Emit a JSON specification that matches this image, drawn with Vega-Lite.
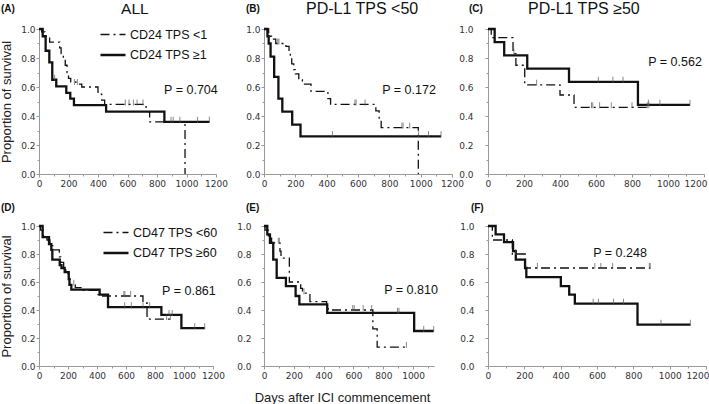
{
"$schema": "https://vega.github.io/schema/vega-lite/v6.json",
"background": "white",
"padding": {"left": 0, "top": 0, "right": 0, "bottom": 1},
"config": {
  "view": {"stroke": null},
  "font": "Liberation Sans",
  "axis": {"domainColor": "#999", "tickColor": "#999", "tickSize": 3, "labelFont": "DejaVu Sans", "labelFontSize": 9, "labelColor": "#333", "grid": false, "titleFont": "Liberation Sans", "titleFontSize": 13, "titleFontWeight": "normal", "titleColor": "#222", "labelOverlap": false, "labelFlush": false},
  "text": {"font": "Liberation Sans", "color": "#111"}
},
"datasets": {
  "A": [
    {"g":"CD24 TPS <1","d":0,"s":1},{"g":"CD24 TPS <1","d":18,"s":0.98},{"g":"CD24 TPS <1","d":40,"s":0.95},{"g":"CD24 TPS <1","d":72,"s":0.91},{"g":"CD24 TPS <1","d":140,"s":0.87},{"g":"CD24 TPS <1","d":150,"s":0.83},{"g":"CD24 TPS <1","d":165,"s":0.79},{"g":"CD24 TPS <1","d":178,"s":0.75},{"g":"CD24 TPS <1","d":190,"s":0.70},{"g":"CD24 TPS <1","d":200,"s":0.66},{"g":"CD24 TPS <1","d":215,"s":0.635},{"g":"CD24 TPS <1","d":250,"s":0.62},{"g":"CD24 TPS <1","d":290,"s":0.60},{"g":"CD24 TPS <1","d":400,"s":0.55},{"g":"CD24 TPS <1","d":425,"s":0.51},{"g":"CD24 TPS <1","d":445,"s":0.48},{"g":"CD24 TPS <1","d":726,"s":0.43},{"g":"CD24 TPS <1","d":750,"s":0.36},{"g":"CD24 TPS <1","d":990,"s":0},
    {"g":"CD24 TPS ≥1","d":0,"s":1},{"g":"CD24 TPS ≥1","d":25,"s":0.95},{"g":"CD24 TPS ≥1","d":45,"s":0.85},{"g":"CD24 TPS ≥1","d":70,"s":0.77},{"g":"CD24 TPS ≥1","d":90,"s":0.65},{"g":"CD24 TPS ≥1","d":117,"s":0.605},{"g":"CD24 TPS ≥1","d":185,"s":0.56},{"g":"CD24 TPS ≥1","d":212,"s":0.52},{"g":"CD24 TPS ≥1","d":237,"s":0.475},{"g":"CD24 TPS ≥1","d":455,"s":0.43},{"g":"CD24 TPS ≥1","d":850,"s":0.36},{"g":"CD24 TPS ≥1","d":1155,"s":0.36}
  ],
  "Ac": [
    {"d":240,"s":0.62},{"d":260,"s":0.62},{"d":585,"s":0.48},{"d":610,"s":0.48},{"d":640,"s":0.48},{"d":665,"s":0.48},{"d":705,"s":0.48},{"d":895,"s":0.36},{"d":910,"s":0.36},
    {"d":106,"s":0.65},{"d":955,"s":0.36},{"d":1075,"s":0.36},{"d":1155,"s":0.36}
  ],
  "B": [
    {"g":"CD24 TPS <1","d":0,"s":1},{"g":"CD24 TPS <1","d":30,"s":0.95},{"g":"CD24 TPS <1","d":48,"s":0.93},{"g":"CD24 TPS <1","d":75,"s":0.90},{"g":"CD24 TPS <1","d":140,"s":0.88},{"g":"CD24 TPS <1","d":160,"s":0.84},{"g":"CD24 TPS <1","d":168,"s":0.80},{"g":"CD24 TPS <1","d":177,"s":0.76},{"g":"CD24 TPS <1","d":190,"s":0.72},{"g":"CD24 TPS <1","d":200,"s":0.69},{"g":"CD24 TPS <1","d":222,"s":0.65},{"g":"CD24 TPS <1","d":245,"s":0.62},{"g":"CD24 TPS <1","d":300,"s":0.57},{"g":"CD24 TPS <1","d":408,"s":0.52},{"g":"CD24 TPS <1","d":425,"s":0.48},{"g":"CD24 TPS <1","d":714,"s":0.435},{"g":"CD24 TPS <1","d":735,"s":0.38},{"g":"CD24 TPS <1","d":748,"s":0.32},{"g":"CD24 TPS <1","d":985,"s":0},
    {"g":"CD24 TPS ≥1","d":0,"s":1},{"g":"CD24 TPS ≥1","d":22,"s":0.95},{"g":"CD24 TPS ≥1","d":30,"s":0.90},{"g":"CD24 TPS ≥1","d":42,"s":0.81},{"g":"CD24 TPS ≥1","d":65,"s":0.67},{"g":"CD24 TPS ≥1","d":92,"s":0.52},{"g":"CD24 TPS ≥1","d":117,"s":0.43},{"g":"CD24 TPS ≥1","d":180,"s":0.34},{"g":"CD24 TPS ≥1","d":233,"s":0.26},{"g":"CD24 TPS ≥1","d":1130,"s":0.26}
  ],
  "Bc": [
    {"d":88,"s":0.90},{"d":95,"s":0.90},{"d":580,"s":0.48},{"d":588,"s":0.48},{"d":645,"s":0.48},{"d":880,"s":0.32},{"d":888,"s":0.32},{"d":930,"s":0.32},
    {"d":437,"s":0.26},{"d":987,"s":0.26},{"d":1050,"s":0.26},{"d":1130,"s":0.26}
  ],
  "C": [
    {"g":"CD24 TPS <1","d":0,"s":1},{"g":"CD24 TPS <1","d":18,"s":0.94},{"g":"CD24 TPS <1","d":139,"s":0.83},{"g":"CD24 TPS <1","d":155,"s":0.75},{"g":"CD24 TPS <1","d":204,"s":0.615},{"g":"CD24 TPS <1","d":400,"s":0.545},{"g":"CD24 TPS <1","d":478,"s":0.46},{"g":"CD24 TPS <1","d":894,"s":0.46},
    {"g":"CD24 TPS ≥1","d":0,"s":1},{"g":"CD24 TPS ≥1","d":37,"s":0.909},{"g":"CD24 TPS ≥1","d":90,"s":0.818},{"g":"CD24 TPS ≥1","d":218,"s":0.727},{"g":"CD24 TPS ≥1","d":450,"s":0.636},{"g":"CD24 TPS ≥1","d":833,"s":0.477},{"g":"CD24 TPS ≥1","d":1122,"s":0.477}
  ],
  "Cc": [
    {"d":144,"s":0.83},{"d":270,"s":0.615},{"d":575,"s":0.46},{"d":582,"s":0.46},{"d":620,"s":0.46},{"d":685,"s":0.46},{"d":800,"s":0.46},{"d":885,"s":0.46},{"d":894,"s":0.46},
    {"d":613,"s":0.636},{"d":694,"s":0.636},{"d":750,"s":0.636},{"d":891,"s":0.477},{"d":955,"s":0.477},{"d":1122,"s":0.477}
  ],
  "D": [
    {"g":"CD47 TPS <60","d":0,"s":1},{"g":"CD47 TPS <60","d":10,"s":0.97},{"g":"CD47 TPS <60","d":30,"s":0.93},{"g":"CD47 TPS <60","d":55,"s":0.90},{"g":"CD47 TPS <60","d":75,"s":0.86},{"g":"CD47 TPS <60","d":95,"s":0.83},{"g":"CD47 TPS <60","d":140,"s":0.78},{"g":"CD47 TPS <60","d":150,"s":0.74},{"g":"CD47 TPS <60","d":170,"s":0.70},{"g":"CD47 TPS <60","d":185,"s":0.66},{"g":"CD47 TPS <60","d":205,"s":0.62},{"g":"CD47 TPS <60","d":215,"s":0.58},{"g":"CD47 TPS <60","d":250,"s":0.56},{"g":"CD47 TPS <60","d":290,"s":0.54},{"g":"CD47 TPS <60","d":400,"s":0.51},{"g":"CD47 TPS <60","d":420,"s":0.50},{"g":"CD47 TPS <60","d":717,"s":0.45},{"g":"CD47 TPS <60","d":745,"s":0.335},{"g":"CD47 TPS <60","d":906,"s":0.335},
    {"g":"CD47 TPS ≥60","d":0,"s":1},{"g":"CD47 TPS ≥60","d":25,"s":0.92},{"g":"CD47 TPS ≥60","d":69,"s":0.87},{"g":"CD47 TPS ≥60","d":85,"s":0.83},{"g":"CD47 TPS ≥60","d":92,"s":0.76},{"g":"CD47 TPS ≥60","d":143,"s":0.72},{"g":"CD47 TPS ≥60","d":155,"s":0.70},{"g":"CD47 TPS ≥60","d":177,"s":0.67},{"g":"CD47 TPS ≥60","d":205,"s":0.62},{"g":"CD47 TPS ≥60","d":210,"s":0.58},{"g":"CD47 TPS ≥60","d":223,"s":0.545},{"g":"CD47 TPS ≥60","d":418,"s":0.51},{"g":"CD47 TPS ≥60","d":476,"s":0.42},{"g":"CD47 TPS ≥60","d":844,"s":0.365},{"g":"CD47 TPS ≥60","d":982,"s":0.27},{"g":"CD47 TPS ≥60","d":1143,"s":0.27}
  ],
  "Dc": [
    {"d":240,"s":0.58},{"d":585,"s":0.50},{"d":592,"s":0.50},{"d":632,"s":0.50},{"d":880,"s":0.335},{"d":906,"s":0.335},
    {"d":591,"s":0.42},{"d":637,"s":0.42},{"d":717,"s":0.42},{"d":763,"s":0.42},{"d":897,"s":0.365},{"d":919,"s":0.365},{"d":1074,"s":0.27},{"d":1143,"s":0.27}
  ],
  "E": [
    {"g":"CD47 TPS <60","d":0,"s":1},{"g":"CD47 TPS <60","d":7,"s":0.97},{"g":"CD47 TPS <60","d":29,"s":0.93},{"g":"CD47 TPS <60","d":51,"s":0.88},{"g":"CD47 TPS <60","d":107,"s":0.82},{"g":"CD47 TPS <60","d":114,"s":0.77},{"g":"CD47 TPS <60","d":170,"s":0.60},{"g":"CD47 TPS <60","d":246,"s":0.555},{"g":"CD47 TPS <60","d":258,"s":0.52},{"g":"CD47 TPS <60","d":308,"s":0.46},{"g":"CD47 TPS <60","d":420,"s":0.43},{"g":"CD47 TPS <60","d":430,"s":0.40},{"g":"CD47 TPS <60","d":730,"s":0.265},{"g":"CD47 TPS <60","d":759,"s":0.135},{"g":"CD47 TPS <60","d":955,"s":0.135},
    {"g":"CD47 TPS ≥60","d":0,"s":1},{"g":"CD47 TPS ≥60","d":22,"s":0.94},{"g":"CD47 TPS ≥60","d":40,"s":0.88},{"g":"CD47 TPS ≥60","d":62,"s":0.76},{"g":"CD47 TPS ≥60","d":85,"s":0.63},{"g":"CD47 TPS ≥60","d":147,"s":0.57},{"g":"CD47 TPS ≥60","d":212,"s":0.50},{"g":"CD47 TPS ≥60","d":237,"s":0.44},{"g":"CD47 TPS ≥60","d":424,"s":0.38},{"g":"CD47 TPS ≥60","d":1007,"s":0.25},{"g":"CD47 TPS ≥60","d":1138,"s":0.25}
  ],
  "Ec": [
    {"d":96,"s":0.88},{"d":103,"s":0.88},{"d":268,"s":0.52},{"d":595,"s":0.40},{"d":605,"s":0.40},{"d":665,"s":0.40},{"d":722,"s":0.40},{"d":955,"s":0.135},
    {"d":895,"s":0.38},{"d":905,"s":0.38},{"d":1071,"s":0.25},{"d":1138,"s":0.25}
  ],
  "F": [
    {"g":"CD47 TPS <60","d":0,"s":1},{"g":"CD47 TPS <60","d":24,"s":0.90},{"g":"CD47 TPS <60","d":134,"s":0.80},{"g":"CD47 TPS <60","d":205,"s":0.70},{"g":"CD47 TPS <60","d":893,"s":0.70},
    {"g":"CD47 TPS ≥60","d":0,"s":1},{"g":"CD47 TPS ≥60","d":42,"s":0.94},{"g":"CD47 TPS ≥60","d":88,"s":0.885},{"g":"CD47 TPS ≥60","d":138,"s":0.82},{"g":"CD47 TPS ≥60","d":153,"s":0.76},{"g":"CD47 TPS ≥60","d":204,"s":0.70},{"g":"CD47 TPS ≥60","d":211,"s":0.635},{"g":"CD47 TPS ≥60","d":401,"s":0.57},{"g":"CD47 TPS ≥60","d":447,"s":0.51},{"g":"CD47 TPS ≥60","d":478,"s":0.445},{"g":"CD47 TPS ≥60","d":823,"s":0.295},{"g":"CD47 TPS ≥60","d":1114,"s":0.295}
  ],
  "Fc": [
    {"d":153,"s":0.80},{"d":272,"s":0.70},{"d":588,"s":0.70},{"d":621,"s":0.70},{"d":686,"s":0.70},{"d":888,"s":0.70},{"d":893,"s":0.70},
    {"d":579,"s":0.445},{"d":608,"s":0.445},{"d":691,"s":0.445},{"d":746,"s":0.445},{"d":952,"s":0.295},{"d":1114,"s":0.295}
  ]
},
"columns": 5,
"align": "each",
"bounds": "flush",
"spacing": {"row": 52, "column": 0},
"resolve": {"scale": {"strokeDash": "independent", "strokeWidth": "independent"}, "legend": {"strokeDash": "independent", "strokeWidth": "independent"}},
"concat": [
 {"width": 177, "height": 145,
  "resolve": {"scale": {"x": "independent", "y": "independent"}, "axis": {"x": "independent", "y": "independent"}},
  "layer": [
  {"data": {"name": "A"}, "mark": {"type": "line", "interpolate": "step-after", "color": "#111"},
   "encoding": {
    "x": {"field": "d", "type": "quantitative", "scale": {"domain": [0, 1200]}, "axis": {"orient": "bottom", "title": null, "values": [0,400,800,1200], "format": "d", "labelPadding": 2}},
    "y": {"field": "s", "type": "quantitative", "scale": {"domain": [0, 1]}, "axis": {"orient": "left", "title": "Proportion of survival", "titlePadding": 7, "values": [0,0.4,0.8], "format": ".1f", "labelPadding": 1}},
    "strokeDash": {"field": "g", "type": "nominal", "scale": {"domain": ["CD24 TPS <1", "CD24 TPS ≥1"], "range": [[9,4,2,4],[1,0]]}, "legend": {"orient": "none", "legendX": 60, "legendY": -8, "title": null, "symbolType": "stroke", "symbolSize": 625, "symbolStrokeColor": "#111", "labelFontSize": 12.5, "labelFont": "Liberation Sans", "labelColor": "#111", "rowPadding": -11, "labelOffset": 3}},
    "strokeWidth": {"field": "g", "type": "nominal", "scale": {"type": "ordinal", "domain": ["CD24 TPS <1", "CD24 TPS ≥1"], "range": [1.3, 2.3]}, "legend": {"orient": "none", "legendX": 60, "legendY": -8, "title": null, "symbolType": "stroke", "symbolSize": 625, "symbolStrokeColor": "#111", "labelFontSize": 12.5, "labelFont": "Liberation Sans", "labelColor": "#111", "rowPadding": -11, "labelOffset": 3}}
   }},
  {"data": {"name": "Ac"}, "mark": {"type": "tick", "orient": "vertical", "size": 6, "thickness": 1, "yOffset": -2, "color": "#555"},
   "encoding": {
    "x": {"field": "d", "type": "quantitative", "scale": {"domain": [0, 1200]}, "axis": {"orient": "bottom", "title": null, "values": [200,600,1000], "format": "d", "labelPadding": 2}},
    "y": {"field": "s", "type": "quantitative", "scale": {"domain": [0, 1]}, "axis": {"orient": "left", "title": null, "values": [0.2,0.6,1], "format": ".1f", "labelPadding": 1}}}},
  {"data": {"values": [{}]}, "mark": {"type": "text", "fontSize": 12.5},
   "encoding": {
    "x": {"datum": 1030, "scale": {"domain": [0, 1200]}, "axis": {"orient": "bottom", "title": null, "values": [100,300,500,700,900,1100], "labels": false, "domain": false, "tickSize": 2}},
    "y": {"datum": 0.579, "scale": {"domain": [0, 1]}, "axis": {"orient": "left", "title": null, "values": [0.1,0.3,0.5,0.7,0.9], "labels": false, "domain": false, "tickSize": 2}},
    "text": {"value": "P = 0.704"}}},
  {"data": {"values": [{}]}, "mark": {"type": "text", "fontSize": 15.5}, "encoding": {"x": {"datum": 650, "scale": {"domain": [0, 1200]}, "axis": null}, "y": {"datum": 1.14, "scale": {"domain": [0, 1]}, "axis": null}, "text": {"value": "ALL"}}},
  {"data": {"values": [{}]}, "mark": {"type": "text", "fontSize": 10, "fontWeight": "bold", "align": "left"}, "encoding": {"x": {"datum": -258, "scale": {"domain": [0, 1200]}, "axis": null}, "y": {"datum": 1.14, "scale": {"domain": [0, 1]}, "axis": null}, "text": {"value": "(A)"}}}
 ]},
 {"width": 48, "height": 10, "data": {"values": []}, "mark": {"type": "point", "opacity": 0}},
 {"width": 188, "height": 145,
  "resolve": {"scale": {"x": "independent", "y": "independent"}, "axis": {"x": "independent", "y": "independent"}},
  "layer": [
  {"data": {"name": "B"}, "mark": {"type": "line", "interpolate": "step-after", "color": "#111"},
   "encoding": {
    "x": {"field": "d", "type": "quantitative", "scale": {"domain": [0, 1200]}, "axis": {"orient": "bottom", "title": null, "values": [0,400,800,1200], "format": "d", "labelPadding": 2}},
    "y": {"field": "s", "type": "quantitative", "scale": {"domain": [0, 1]}, "axis": {"orient": "left", "title": null, "values": [0,0.4,0.8], "format": ".1f", "labelPadding": 1}},
    "strokeDash": {"field": "g", "type": "nominal", "scale": {"domain": ["CD24 TPS <1", "CD24 TPS ≥1"], "range": [[9,4,2,4],[1,0]]}, "legend": null},
    "strokeWidth": {"field": "g", "type": "nominal", "scale": {"type": "ordinal", "domain": ["CD24 TPS <1", "CD24 TPS ≥1"], "range": [1.3, 2.3]}, "legend": null}
   }},
  {"data": {"name": "Bc"}, "mark": {"type": "tick", "orient": "vertical", "size": 6, "thickness": 1, "yOffset": -2, "color": "#555"},
   "encoding": {
    "x": {"field": "d", "type": "quantitative", "scale": {"domain": [0, 1200]}, "axis": {"orient": "bottom", "title": null, "values": [200,600,1000], "format": "d", "labelPadding": 2}},
    "y": {"field": "s", "type": "quantitative", "scale": {"domain": [0, 1]}, "axis": {"orient": "left", "title": null, "values": [0.2,0.6,1], "format": ".1f", "labelPadding": 1}}}},
  {"data": {"values": [{}]}, "mark": {"type": "text", "fontSize": 12.5},
   "encoding": {
    "x": {"datum": 926, "scale": {"domain": [0, 1200]}, "axis": {"orient": "bottom", "title": null, "values": [100,300,500,700,900,1100], "labels": false, "domain": false, "tickSize": 2}},
    "y": {"datum": 0.579, "scale": {"domain": [0, 1]}, "axis": {"orient": "left", "title": null, "values": [0.1,0.3,0.5,0.7,0.9], "labels": false, "domain": false, "tickSize": 2}},
    "text": {"value": "P = 0.172"}}},
  {"data": {"values": [{}]}, "mark": {"type": "text", "fontSize": 16}, "encoding": {"x": {"datum": 626, "scale": {"domain": [0, 1200]}, "axis": null}, "y": {"datum": 1.14, "scale": {"domain": [0, 1]}, "axis": null}, "text": {"value": "PD-L1 TPS <50"}}},
  {"data": {"values": [{}]}, "mark": {"type": "text", "fontSize": 10, "fontWeight": "bold", "align": "left"}, "encoding": {"x": {"datum": -115, "scale": {"domain": [0, 1200]}, "axis": null}, "y": {"datum": 1.14, "scale": {"domain": [0, 1]}, "axis": null}, "text": {"value": "(B)"}}}
 ]},
 {"width": 36, "height": 10, "data": {"values": []}, "mark": {"type": "point", "opacity": 0}},
 {"width": 216, "height": 145,
  "resolve": {"scale": {"x": "independent", "y": "independent"}, "axis": {"x": "independent", "y": "independent"}},
  "layer": [
  {"data": {"name": "C"}, "mark": {"type": "line", "interpolate": "step-after", "color": "#111"},
   "encoding": {
    "x": {"field": "d", "type": "quantitative", "scale": {"domain": [0, 1200]}, "axis": {"orient": "bottom", "title": null, "values": [0,400,800,1200], "format": "d", "labelPadding": 2, "labelFlush": true, "labelFlushOffset": 3}},
    "y": {"field": "s", "type": "quantitative", "scale": {"domain": [0, 1]}, "axis": {"orient": "left", "title": null, "values": [0,0.4,0.8], "format": ".1f", "labelPadding": 12}},
    "strokeDash": {"field": "g", "type": "nominal", "scale": {"domain": ["CD24 TPS <1", "CD24 TPS ≥1"], "range": [[9,4,2,4],[1,0]]}, "legend": null},
    "strokeWidth": {"field": "g", "type": "nominal", "scale": {"type": "ordinal", "domain": ["CD24 TPS <1", "CD24 TPS ≥1"], "range": [1.3, 2.3]}, "legend": null}
   }},
  {"data": {"name": "Cc"}, "mark": {"type": "tick", "orient": "vertical", "size": 6, "thickness": 1, "yOffset": -2, "color": "#555"},
   "encoding": {
    "x": {"field": "d", "type": "quantitative", "scale": {"domain": [0, 1200]}, "axis": {"orient": "bottom", "title": null, "values": [200,600,1000], "format": "d", "labelPadding": 2}},
    "y": {"field": "s", "type": "quantitative", "scale": {"domain": [0, 1]}, "axis": {"orient": "left", "title": null, "values": [0.2,0.6,1], "format": ".1f", "labelPadding": 12}}}},
  {"data": {"values": [{}]}, "mark": {"type": "text", "fontSize": 12.5},
   "encoding": {
    "x": {"datum": 1039, "scale": {"domain": [0, 1200]}, "axis": {"orient": "bottom", "title": null, "values": [100,300,500,700,900,1100], "labels": false, "domain": false, "tickSize": 2}},
    "y": {"datum": 0.772, "scale": {"domain": [0, 1]}, "axis": {"orient": "left", "title": null, "values": [0.1,0.3,0.5,0.7,0.9], "labels": false, "domain": false, "tickSize": 2}},
    "text": {"value": "P = 0.562"}}},
  {"data": {"values": [{}]}, "mark": {"type": "text", "fontSize": 16}, "encoding": {"x": {"datum": 533, "scale": {"domain": [0, 1200]}, "axis": null}, "y": {"datum": 1.14, "scale": {"domain": [0, 1]}, "axis": null}, "text": {"value": "PD-L1 TPS ≥50"}}},
  {"data": {"values": [{}]}, "mark": {"type": "text", "fontSize": 10, "fontWeight": "bold", "align": "left"}, "encoding": {"x": {"datum": -106, "scale": {"domain": [0, 1200]}, "axis": null}, "y": {"datum": 1.14, "scale": {"domain": [0, 1]}, "axis": null}, "text": {"value": "(C)"}}}
 ]},
 {"width": 174, "height": 140,
  "resolve": {"scale": {"x": "independent", "y": "independent"}, "axis": {"x": "independent", "y": "independent"}},
  "layer": [
  {"data": {"name": "D"}, "mark": {"type": "line", "interpolate": "step-after", "color": "#111"},
   "encoding": {
    "x": {"field": "d", "type": "quantitative", "scale": {"domain": [0, 1200]}, "axis": {"orient": "bottom", "title": null, "values": [0,400,800,1200], "format": "d", "labelPadding": 2}},
    "y": {"field": "s", "type": "quantitative", "scale": {"domain": [0, 1]}, "axis": {"orient": "left", "title": "Proportion of survival", "titlePadding": 7, "values": [0,0.4,0.8], "format": ".1f", "labelPadding": 1}},
    "strokeDash": {"field": "g", "type": "nominal", "scale": {"domain": ["CD47 TPS <60", "CD47 TPS ≥60"], "range": [[9,4,2,4],[1,0]]}, "legend": {"orient": "none", "legendX": 63, "legendY": -7, "title": null, "symbolType": "stroke", "symbolSize": 625, "symbolStrokeColor": "#111", "labelFontSize": 12.5, "labelFont": "Liberation Sans", "labelColor": "#111", "rowPadding": -12, "labelOffset": 3}},
    "strokeWidth": {"field": "g", "type": "nominal", "scale": {"type": "ordinal", "domain": ["CD47 TPS <60", "CD47 TPS ≥60"], "range": [1.3, 2.3]}, "legend": {"orient": "none", "legendX": 63, "legendY": -7, "title": null, "symbolType": "stroke", "symbolSize": 625, "symbolStrokeColor": "#111", "labelFontSize": 12.5, "labelFont": "Liberation Sans", "labelColor": "#111", "rowPadding": -12, "labelOffset": 3}}
   }},
  {"data": {"name": "Dc"}, "mark": {"type": "tick", "orient": "vertical", "size": 6, "thickness": 1, "yOffset": -2, "color": "#555"},
   "encoding": {
    "x": {"field": "d", "type": "quantitative", "scale": {"domain": [0, 1200]}, "axis": {"orient": "bottom", "title": null, "values": [200,600,1000], "format": "d", "labelPadding": 2}},
    "y": {"field": "s", "type": "quantitative", "scale": {"domain": [0, 1]}, "axis": {"orient": "left", "title": null, "values": [0.2,0.6,1], "format": ".1f", "labelPadding": 1}}}},
  {"data": {"values": [{}]}, "mark": {"type": "text", "fontSize": 12.5},
   "encoding": {
    "x": {"datum": 1034, "scale": {"domain": [0, 1200]}, "axis": {"orient": "bottom", "title": null, "values": [100,300,500,700,900,1100], "labels": false, "domain": false, "tickSize": 2}},
    "y": {"datum": 0.536, "scale": {"domain": [0, 1]}, "axis": {"orient": "left", "title": null, "values": [0.1,0.3,0.5,0.7,0.9], "labels": false, "domain": false, "tickSize": 2}},
    "text": {"value": "P = 0.861"}}},
  {"data": {"values": [{}]}, "mark": {"type": "text", "fontSize": 10, "fontWeight": "bold", "align": "left"}, "encoding": {"x": {"datum": -262, "scale": {"domain": [0, 1200]}, "axis": null}, "y": {"datum": 1.13, "scale": {"domain": [0, 1]}, "axis": null}, "text": {"value": "(D)"}}}
 ]},
 {"width": 48, "height": 10, "data": {"values": []}, "mark": {"type": "point", "opacity": 0}},
 {"width": 170, "height": 140,
  "resolve": {"scale": {"x": "independent", "y": "independent"}, "axis": {"x": "independent", "y": "independent"}},
  "layer": [
  {"data": {"name": "E"}, "mark": {"type": "line", "interpolate": "step-after", "color": "#111"},
   "encoding": {
    "x": {"field": "d", "type": "quantitative", "scale": {"domain": [0, 1140]}, "axis": {"orient": "bottom", "title": "Days after ICI commencement", "titlePadding": 11, "titleX": 78, "values": [0,400,800], "format": "d", "labelPadding": 2}},
    "y": {"field": "s", "type": "quantitative", "scale": {"domain": [0, 1]}, "axis": {"orient": "left", "title": null, "values": [0,0.4,0.8], "format": ".1f", "labelPadding": 10}},
    "strokeDash": {"field": "g", "type": "nominal", "scale": {"domain": ["CD47 TPS <60", "CD47 TPS ≥60"], "range": [[9,4,2,4],[1,0]]}, "legend": null},
    "strokeWidth": {"field": "g", "type": "nominal", "scale": {"type": "ordinal", "domain": ["CD47 TPS <60", "CD47 TPS ≥60"], "range": [1.3, 2.3]}, "legend": null}
   }},
  {"data": {"name": "Ec"}, "mark": {"type": "tick", "orient": "vertical", "size": 6, "thickness": 1, "yOffset": -2, "color": "#555"},
   "encoding": {
    "x": {"field": "d", "type": "quantitative", "scale": {"domain": [0, 1140]}, "axis": {"orient": "bottom", "title": null, "values": [200,600,1000], "format": "d", "labelPadding": 2}},
    "y": {"field": "s", "type": "quantitative", "scale": {"domain": [0, 1]}, "axis": {"orient": "left", "title": null, "values": [0.2,0.6,1], "format": ".1f", "labelPadding": 10}}}},
  {"data": {"values": [{}]}, "mark": {"type": "text", "fontSize": 12.5},
   "encoding": {
    "x": {"datum": 986, "scale": {"domain": [0, 1140]}, "axis": {"orient": "bottom", "title": null, "values": [100,300,500,700,900,1100], "labels": false, "domain": false, "tickSize": 2}},
    "y": {"datum": 0.543, "scale": {"domain": [0, 1]}, "axis": {"orient": "left", "title": null, "values": [0.1,0.3,0.5,0.7,0.9], "labels": false, "domain": false, "tickSize": 2}},
    "text": {"value": "P = 0.810"}}},
  {"data": {"values": [{}]}, "mark": {"type": "text", "fontSize": 10, "fontWeight": "bold", "align": "left"}, "encoding": {"x": {"datum": -121, "scale": {"domain": [0, 1140]}, "axis": null}, "y": {"datum": 1.13, "scale": {"domain": [0, 1]}, "axis": null}, "text": {"value": "(E)"}}}
 ]},
 {"width": 36, "height": 10, "data": {"values": []}, "mark": {"type": "point", "opacity": 0}},
 {"width": 218, "height": 140,
  "resolve": {"scale": {"x": "independent", "y": "independent"}, "axis": {"x": "independent", "y": "independent"}},
  "layer": [
  {"data": {"name": "F"}, "mark": {"type": "line", "interpolate": "step-after", "color": "#111"},
   "encoding": {
    "x": {"field": "d", "type": "quantitative", "scale": {"domain": [0, 1200]}, "axis": {"orient": "bottom", "title": null, "values": [0,400,800,1200], "format": "d", "labelPadding": 2, "labelFlush": true, "labelFlushOffset": 3}},
    "y": {"field": "s", "type": "quantitative", "scale": {"domain": [0, 1]}, "axis": {"orient": "left", "title": null, "values": [0,0.4,0.8], "format": ".1f", "labelPadding": 11}},
    "strokeDash": {"field": "g", "type": "nominal", "scale": {"domain": ["CD47 TPS <60", "CD47 TPS ≥60"], "range": [[9,4,2,4],[1,0]]}, "legend": null},
    "strokeWidth": {"field": "g", "type": "nominal", "scale": {"type": "ordinal", "domain": ["CD47 TPS <60", "CD47 TPS ≥60"], "range": [1.3, 2.3]}, "legend": null}
   }},
  {"data": {"name": "Fc"}, "mark": {"type": "tick", "orient": "vertical", "size": 6, "thickness": 1, "yOffset": -2, "color": "#555"},
   "encoding": {
    "x": {"field": "d", "type": "quantitative", "scale": {"domain": [0, 1200]}, "axis": {"orient": "bottom", "title": null, "values": [200,600,1000], "format": "d", "labelPadding": 2}},
    "y": {"field": "s", "type": "quantitative", "scale": {"domain": [0, 1]}, "axis": {"orient": "left", "title": null, "values": [0.2,0.6,1], "format": ".1f", "labelPadding": 11}}}},
  {"data": {"values": [{}]}, "mark": {"type": "text", "fontSize": 12.5},
   "encoding": {
    "x": {"datum": 727, "scale": {"domain": [0, 1200]}, "axis": {"orient": "bottom", "title": null, "values": [100,300,500,700,900,1100], "labels": false, "domain": false, "tickSize": 2}},
    "y": {"datum": 0.807, "scale": {"domain": [0, 1]}, "axis": {"orient": "left", "title": null, "values": [0.1,0.3,0.5,0.7,0.9], "labels": false, "domain": false, "tickSize": 2}},
    "text": {"value": "P = 0.248"}}},
  {"data": {"values": [{}]}, "mark": {"type": "text", "fontSize": 10, "fontWeight": "bold", "align": "left"}, "encoding": {"x": {"datum": -94, "scale": {"domain": [0, 1200]}, "axis": null}, "y": {"datum": 1.13, "scale": {"domain": [0, 1]}, "axis": null}, "text": {"value": "(F)"}}}
 ]}
]
}
